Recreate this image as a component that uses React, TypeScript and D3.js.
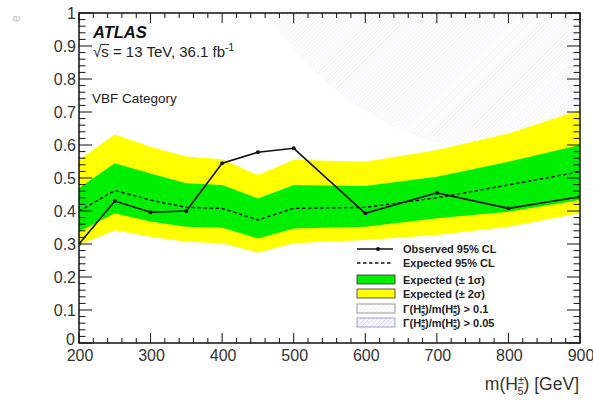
import React from "react";
import * as d3 from "d3";

// Mass points (GeV) of the charged Higgs scan
const masses = [200, 250, 300, 350, 400, 450, 500, 600, 700, 800, 900];
// Observed and expected 95% CL upper limits
const observed = [0.3, 0.43, 0.396, 0.4, 0.545, 0.578, 0.59, 0.393, 0.455, 0.408, 0.443];
const expected = [0.4, 0.462, 0.433, 0.411, 0.408, 0.373, 0.408, 0.411, 0.44, 0.479, 0.519];
// Expected ±1σ and ±2σ bands
const plus1 = [0.47, 0.545, 0.514, 0.484, 0.479, 0.438, 0.479, 0.476, 0.504, 0.549, 0.6];
const minus1 = [0.337, 0.393, 0.368, 0.352, 0.349, 0.317, 0.347, 0.352, 0.378, 0.398, 0.433];
const plus2 = [0.555, 0.632, 0.595, 0.565, 0.557, 0.509, 0.555, 0.549, 0.585, 0.635, 0.706];
const minus2 = [0.297, 0.342, 0.322, 0.307, 0.302, 0.274, 0.302, 0.312, 0.327, 0.352, 0.393];
// Boundary of the Γ/m > 0.1 region
const widthMass = [460, 480, 510, 550, 600, 650, 700, 760, 830, 900];
const widthLimit = [1.0, 0.945, 0.865, 0.78, 0.7, 0.645, 0.605, 0.585, 0.57, 0.56];

const xTicks = [200, 300, 400, 500, 600, 700, 800, 900];
const yTicks = [0, 0.1, 0.2, 0.3, 0.4, 0.5, 0.6, 0.7, 0.8, 0.9, 1];
const yTickLabels = ["0", "0.1", "0.2", "0.3", "0.4", "0.5", "0.6", "0.7", "0.8", "0.9", "1"];

const FONT = "'Liberation Sans', Arial, Helvetica, sans-serif";

const X0 = 79, X1 = 580, Y0 = 13, Y1 = 343;

export default function App() {
  const x = d3.scaleLinear().domain([200, 900]).range([X0, X1]);
  const y = d3.scaleLinear().domain([0, 1]).range([Y1, Y0]);
  const idx = masses.map((_, i) => i);

  const band = (lo: number[], hi: number[]) =>
    d3.area<number>().x((i) => x(masses[i])).y0((i) => y(lo[i])).y1((i) => y(hi[i]))(idx) || "";
  const line = (v: number[]) => d3.line<number>().x((i) => x(masses[i])).y((i) => y(v[i]))(idx) || "";

  const hatchPts: [number, number][] = widthMass.map((m, i) => [x(m), y(widthLimit[i])]);
  hatchPts.push([x(900), y(1)]);
  const hatchPath = (d3.line().curve(d3.curveLinearClosed)(hatchPts) as string) || "";

  const xMinor = d3.range(200, 901, 20).filter((v) => v % 100 !== 0);
  const yMinor = d3.range(0, 51).map((k) => k / 50).filter((_, k) => k % 5 !== 0);

  const legendX = 357, legendTextX = 403;
  const rows = [249, 263, 279.5, 293.5, 308.5, 322.5];

  const gammaLabel = (lx: number, ly: number, val: string) => (
    <text x={lx} y={ly + 4} fontFamily={FONT} fontSize={11} fontWeight="bold" fill="#222">
      <tspan>Γ(H</tspan>
      <tspan dy={-4} fontSize={7}>±</tspan>
      <tspan dx={-4} dy={7} fontSize={7}>5</tspan>
      <tspan dy={-3}>)/m(H</tspan>
      <tspan dy={-4} fontSize={7}>±</tspan>
      <tspan dx={-4} dy={7} fontSize={7}>5</tspan>
      <tspan dy={-3}>{`) > ${val}`}</tspan>
    </text>
  );

  return (
    <svg
      width={593}
      height={400}
      style={{ position: "absolute", left: 0, top: 0, background: "#fff" }}
    >
      <defs>
        <pattern id="hatchGrey" width={3} height={3} patternUnits="userSpaceOnUse" patternTransform="rotate(45)">
          <line x1={0} y1={0} x2={0} y2={3} stroke="#dedee6" strokeWidth={0.9} />
        </pattern>
        <pattern id="hatchBlue" width={3} height={3} patternUnits="userSpaceOnUse" patternTransform="rotate(45)">
          <line x1={0} y1={0} x2={0} y2={3} stroke="#b8b8ee" strokeWidth={1} />
        </pattern>
        <clipPath id="frame">
          <rect x={X0} y={Y0} width={X1 - X0} height={Y1 - Y0} />
        </clipPath>
      </defs>

      {/* faint fragment of the vertical axis title */}
      <text transform="translate(20,22) rotate(-90)" fontFamily={FONT} fontSize={12} fill="#aaa" opacity={0.7}>e</text>

      <g clipPath="url(#frame)">
        <path d={hatchPath} fill="url(#hatchGrey)" />
        <path d={band(minus2, plus2)} fill="#ffff00" />
        <path d={band(minus1, plus1)} fill="#00ee00" />
        <path d={line(expected)} fill="none" stroke="#111" strokeWidth={1.4} strokeDasharray="3.5,2.5" />
        <path d={line(observed)} fill="none" stroke="#111" strokeWidth={1.6} />
        {masses.map((m, i) => (
          <circle key={m} cx={x(m)} cy={y(observed[i])} r={2} fill="#111" />
        ))}
      </g>

      {/* labels inside the frame */}
      <text x={93} y={38} fontFamily={FONT} fontSize={16.5} fontWeight="bold" fontStyle="italic" fill="#111">ATLAS</text>
      <text x={93} y={57} fontFamily={FONT} fontSize={15} fill="#222">
        <tspan>√s = 13 TeV, 36.1 fb</tspan>
        <tspan dy={-6} fontSize={10}>-1</tspan>
      </text>
      <line x1={100.5} x2={109} y1={44.5} y2={44.5} stroke="#222" strokeWidth={1} />
      <text x={92} y={103} fontFamily={FONT} fontSize={13.5} fill="#222">VBF Category</text>

      {/* legend */}
      <g>
        <line x1={legendX} x2={legendX + 36} y1={rows[0]} y2={rows[0]} stroke="#111" strokeWidth={1.5} />
        <circle cx={legendX + 21} cy={rows[0]} r={2} fill="#111" />
        <text x={legendTextX} y={rows[0] + 4} fontFamily={FONT} fontSize={11} fontWeight="bold" fill="#222">Observed 95% CL</text>

        <line x1={legendX} x2={legendX + 36} y1={rows[1]} y2={rows[1]} stroke="#111" strokeWidth={1.4} strokeDasharray="3.5,2.5" />
        <text x={legendTextX} y={rows[1] + 4} fontFamily={FONT} fontSize={11} fontWeight="bold" fill="#222">Expected 95% CL</text>

        <rect x={legendX} y={rows[2] - 4.5} width={38} height={9} fill="#00ee00" stroke="#333" strokeWidth={0.8} />
        <text x={legendTextX} y={rows[2] + 4} fontFamily={FONT} fontSize={11} fontWeight="bold" fill="#222">Expected (± 1σ)</text>

        <rect x={legendX} y={rows[3] - 4.5} width={38} height={9} fill="#ffff00" stroke="#333" strokeWidth={0.8} />
        <text x={legendTextX} y={rows[3] + 4} fontFamily={FONT} fontSize={11} fontWeight="bold" fill="#222">Expected (± 2σ)</text>

        <rect x={legendX} y={rows[4] - 4.5} width={38} height={9} fill="url(#hatchGrey)" stroke="#999" strokeWidth={1} />
        {gammaLabel(legendTextX, rows[4], "0.1")}

        <rect x={legendX} y={rows[5] - 4.5} width={38} height={9} fill="url(#hatchBlue)" stroke="#9a9ae0" strokeWidth={1} />
        {gammaLabel(legendTextX, rows[5], "0.05")}
      </g>

      {/* ticks */}
      <g stroke="#111" strokeWidth={1}>
        {xTicks.map((v) => (
          <g key={`xt${v}`}>
            <line x1={x(v)} x2={x(v)} y1={Y1} y2={Y1 - 10} />
            <line x1={x(v)} x2={x(v)} y1={Y0} y2={Y0 + 10} />
          </g>
        ))}
        {xMinor.map((v) => (
          <g key={`xm${v}`}>
            <line x1={x(v)} x2={x(v)} y1={Y1} y2={Y1 - 5} />
            <line x1={x(v)} x2={x(v)} y1={Y0} y2={Y0 + 5} />
          </g>
        ))}
        {yTicks.map((v) => (
          <g key={`yt${v}`}>
            <line x1={X0} x2={X0 + 13} y1={y(v)} y2={y(v)} />
            <line x1={X1} x2={X1 - 13} y1={y(v)} y2={y(v)} />
          </g>
        ))}
        {yMinor.map((v) => (
          <g key={`ym${v}`}>
            <line x1={X0} x2={X0 + 6.5} y1={y(v)} y2={y(v)} />
            <line x1={X1} x2={X1 - 6.5} y1={y(v)} y2={y(v)} />
          </g>
        ))}
      </g>

      {/* frame */}
      <rect x={X0} y={Y0} width={X1 - X0} height={Y1 - Y0} fill="none" stroke="#111" strokeWidth={1.5} />

      {/* tick labels */}
      {yTicks.map((v, i) => (
        <text key={`yl${v}`} x={v === 0 ? 75 : 76} y={y(v) + (v === 0 ? 2 : 5.5)} textAnchor="end" fontFamily={FONT} fontSize={16} fill="#333">
          {yTickLabels[i]}
        </text>
      ))}
      {xTicks.map((v) => (
        <text key={`xl${v}`} x={x(v) + 1} y={361} textAnchor="middle" fontFamily={FONT} fontSize={16} fill="#333">
          {v}
        </text>
      ))}

      {/* axis title */}
      <text x={579} y={390} textAnchor="end" fontFamily={FONT} fontSize={17.5} fill="#333">
        <tspan>m(H</tspan>
        <tspan dy={-6} fontSize={11}>±</tspan>
        <tspan dx={-6.5} dy={11} fontSize={11}>5</tspan>
        <tspan dy={-5}>) [GeV]</tspan>
      </text>
    </svg>
  );
}
